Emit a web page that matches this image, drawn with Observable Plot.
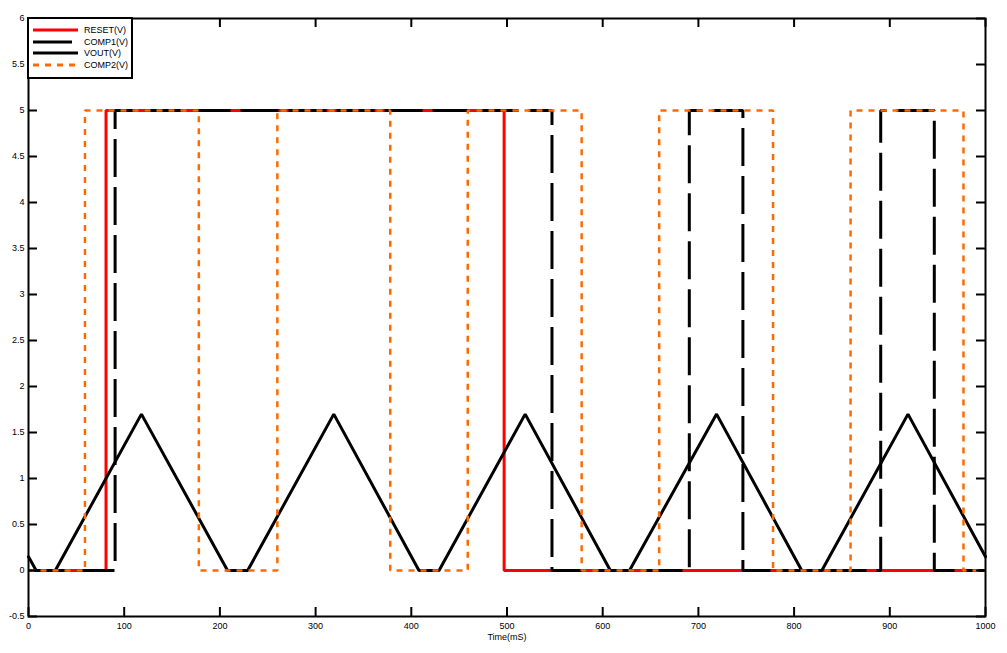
<!DOCTYPE html>
<html><head><meta charset="utf-8">
<script src="https://cdn.jsdelivr.net/npm/d3@7"></script>
<script src="https://cdn.jsdelivr.net/npm/@observablehq/plot@0.6"></script>
<style>
body{margin:0;background:#fff;font-family:"Liberation Sans",Arial,sans-serif;}
#wrap{position:relative;width:1007px;height:653px;}
#legend{position:absolute;left:27px;top:17px;width:106px;height:62px;border:2px solid #000;background:#fff;box-sizing:border-box;}
#legend svg{position:absolute;left:-2px;top:-2px;overflow:visible;}
</style></head><body><div id="wrap"></div>
<script>
// Time (ms) and value (V) of each series
const resetT = [0, 81, 81, 497, 497, 1000];
const resetV = [0, 0, 5, 5, 0, 0];

const comp1T = [0, 90.5, 90.5, 547, 547, 690.5, 690.5, 746.5, 746.5, 890.5, 890.5, 946.5, 946.5, 1000];
const comp1V = [0, 0, 5, 5, 0, 0, 5, 5, 0, 0, 5, 5, 0, 0];

const voutT = [0, 8, 28, 118, 208, 229, 319, 408, 429, 519, 608, 628, 719, 808, 829, 919, 1000];
const voutV = [0.15, 0, 0, 1.7, 0, 0, 1.7, 0, 0, 1.7, 0, 0, 1.7, 0, 0, 1.7, 0.15];

const comp2T = [0, 59, 59, 178, 178, 260, 260, 378, 378, 459, 459, 578, 578, 659, 659, 778, 778, 859, 859, 977, 977, 1000];
const comp2V = [0, 0, 5, 5, 0, 0, 5, 5, 0, 0, 5, 5, 0, 0, 5, 5, 0, 0, 5, 5, 0, 0];

const xTicks = [0, 100, 200, 300, 400, 500, 600, 700, 800, 900, 1000];
const yTicks = [-0.5, 0, 0.5, 1, 1.5, 2, 2.5, 3, 3.5, 4, 4.5, 5, 5.5, 6];
const seriesNames = ["RESET(V)", "COMP1(V)", "VOUT(V)", "COMP2(V)"];
const xLabel = "Time(mS)";

const zip = (T, V) => T.map((t, i) => ({t, v: V[i]}));
const reset = zip(resetT, resetV), comp1 = zip(comp1T, comp1V), vout = zip(voutT, voutV), comp2 = zip(comp2T, comp2V);

const W = 1007, H = 653, mL = 28, mR = 22, mT = 18, mB = 37;
const fh = H - mT - mB, fw = W - mL - mR;
const font = '"Liberation Sans", Arial, sans-serif';

const chart = Plot.plot({
  width: W, height: H,
  marginLeft: mL, marginRight: mR, marginTop: mT, marginBottom: mB,
  x: {domain: [0, 1000], label: null},
  y: {domain: [-0.5, 6], label: null},
  style: {fontFamily: font, fontSize: "9px", background: "white", color: "black", overflow: "visible"},
  marks: [
    Plot.line(reset, {x: "t", y: "v", stroke: "#ff0000", strokeWidth: 3, strokeLinejoin: "miter", strokeLinecap: "butt"}),
    Plot.line(comp1, {x: "t", y: "v", stroke: "#000", strokeWidth: 3, strokeDasharray: "38,10", strokeLinejoin: "miter", strokeLinecap: "butt"}),
    Plot.line(vout, {x: "t", y: "v", stroke: "#000", strokeWidth: 3, strokeLinejoin: "miter"}),
    Plot.line(comp2, {x: "t", y: "v", stroke: "#ff6a00", strokeWidth: 2.5, strokeDasharray: "6,6", strokeLinejoin: "miter", strokeLinecap: "butt"}),
    Plot.tickX(xTicks, {x: d => d, insetTop: fh - 9, stroke: "#000", strokeWidth: 2}),
    Plot.tickX(xTicks, {x: d => d, insetBottom: fh - 9, stroke: "#000", strokeWidth: 2}),
    Plot.tickY(yTicks, {y: d => d, insetRight: fw - 9, stroke: "#000", strokeWidth: 2}),
    Plot.tickY(yTicks, {y: d => d, insetLeft: fw - 9, stroke: "#000", strokeWidth: 2}),
    Plot.axisX(xTicks, {tickSize: 0, tickPadding: 6, tickFormat: d => String(d), label: null}),
    Plot.axisY(yTicks, {tickSize: 0, tickPadding: 4, tickFormat: d => String(d), label: null}),
    Plot.text([xLabel], {frameAnchor: "bottom", dy: 23, fontSize: 9}),
    Plot.frame({stroke: "#000", strokeWidth: 2})
  ]
});
const wrap = document.getElementById("wrap");
wrap.appendChild(chart);

// Legend
const legend = document.createElement("div");
legend.id = "legend";
const styles = [
  {stroke: "#ff0000", x2: 51, dash: null},
  {stroke: "#000", x2: 45, dash: null},
  {stroke: "#000", x2: 51, dash: null},
  {stroke: "#ff6a00", x2: 51, dash: "6,6"}
];
const ys = [13, 25, 36, 48];
let svg = `<svg width="106" height="62" xmlns="http://www.w3.org/2000/svg" style="font-family:${font.replace(/"/g, "'")};font-size:9px">`;
seriesNames.forEach((name, i) => {
  const s = styles[i];
  svg += `<line x1="6" x2="${s.x2}" y1="${ys[i]}" y2="${ys[i]}" stroke="${s.stroke}" stroke-width="3"${s.dash ? ` stroke-dasharray="${s.dash}"` : ""}/>`;
  svg += `<text x="57" y="${ys[i]}" dy="0.35em" fill="#000">${name}</text>`;
});
svg += `</svg>`;
legend.innerHTML = svg;
wrap.appendChild(legend);
</script>
</body></html>
